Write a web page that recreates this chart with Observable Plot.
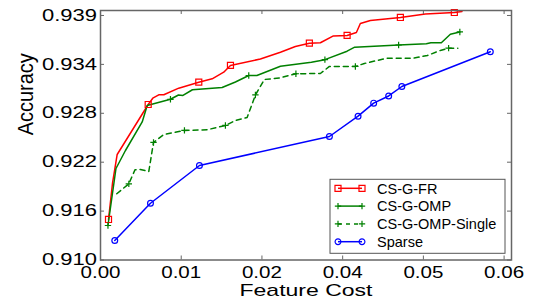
<!DOCTYPE html>
<html><head><meta charset="utf-8">
<script src="https://cdn.jsdelivr.net/npm/d3@7"></script>
<script src="https://cdn.jsdelivr.net/npm/@observablehq/plot@0.6"></script>
<style>body{margin:0;background:#fff;} svg{display:block}</style>
</head><body><div id="chart"></div>
<script>
// Axis ticks and their (matplotlib-rounded) labels
const xTicks = [0, 0.012, 0.024, 0.036, 0.048, 0.060];
const xTickLabels = ["0.00", "0.01", "0.02", "0.04", "0.05", "0.06"];
const yTicks = [0.910, 0.9159, 0.9218, 0.9277, 0.9336, 0.9395];
const yTickLabels = ["0.910", "0.916", "0.922", "0.928", "0.934", "0.939"];

const seriesNames = ["CS-G-FR", "CS-G-OMP", "CS-G-OMP-Single", "Sparse"];
const seriesColors = ["#ff0000", "#008000", "#008000", "#0000ff"];
const seriesSymbols = ["square", "plus", "plus", "circle"];
const seriesDash = [null, null, "5,4", null];

// CS-G-FR
const frCost = [0.00119, 0.00178, 0.00248, 0.00709, 0.00777, 0.00866, 0.00941, 0.01163, 0.01461, 0.01660, 0.01832, 0.01932, 0.02377, 0.02675, 0.02897, 0.03105, 0.03269, 0.03462, 0.03666, 0.03804, 0.03863, 0.04012, 0.04458, 0.04829, 0.05260, 0.05374];
const frAcc  = [0.91489, 0.91923, 0.92273, 0.92876, 0.92952, 0.92993, 0.92993, 0.93073, 0.93145, 0.93186, 0.93266, 0.93347, 0.93425, 0.93507, 0.93576, 0.93616, 0.93621, 0.93703, 0.93709, 0.93745, 0.93854, 0.93890, 0.93926, 0.93968, 0.93986, 0.93998];
const frMarks = [0, 3, 8, 11, 15, 18, 22, 24];

// CS-G-OMP
const ompCost = [0.00111, 0.00230, 0.00371, 0.00620, 0.00694, 0.01040, 0.01159, 0.01226, 0.01367, 0.01808, 0.02006, 0.02204, 0.02325, 0.02675, 0.03135, 0.03336, 0.03666, 0.03779, 0.04432, 0.04844, 0.04911, 0.05067, 0.05201, 0.05342];
const ompAcc  = [0.91416, 0.92104, 0.92321, 0.92665, 0.92864, 0.92939, 0.92991, 0.92985, 0.93054, 0.93081, 0.93148, 0.93226, 0.93226, 0.93338, 0.93387, 0.93417, 0.93519, 0.93568, 0.93594, 0.93609, 0.93621, 0.93621, 0.93723, 0.93751];
const ompMarks = [0, 5, 11, 15, 18, 23];

// CS-G-OMP-Single
const singleCost = [0.00242, 0.00421, 0.00513, 0.00594, 0.00718, 0.00788, 0.00941, 0.01248, 0.01585, 0.01857, 0.02006, 0.02180, 0.02303, 0.02437, 0.02660, 0.02905, 0.03269, 0.03403, 0.03789, 0.03923, 0.04260, 0.04655, 0.04859, 0.05052, 0.05175, 0.05312];
const singleAcc  = [0.91799, 0.91919, 0.92088, 0.92092, 0.92068, 0.92418, 0.92514, 0.92563, 0.92571, 0.92623, 0.92683, 0.92719, 0.92991, 0.93178, 0.93196, 0.93247, 0.93250, 0.93335, 0.93335, 0.93371, 0.93435, 0.93435, 0.93467, 0.93528, 0.93556, 0.93556];
const singleMarks = [1, 5, 7, 9, 12, 15, 18, 24];

// Sparse
const sparseCost = [0.00212, 0.00743, 0.01471, 0.03403, 0.03829, 0.04061, 0.04284, 0.04480, 0.05795];
const sparseAcc  = [0.91235, 0.91685, 0.92140, 0.92490, 0.92735, 0.92892, 0.92979, 0.93093, 0.93512];
const sparseMarks = [0, 1, 2, 3, 4, 5, 6, 7, 8];

const allCost = [frCost, ompCost, singleCost, sparseCost];
const allAcc = [frAcc, ompAcc, singleAcc, sparseAcc];
const allMarks = [frMarks, ompMarks, singleMarks, sparseMarks];

const rows = [];
seriesNames.forEach((s, k) => {
  allCost[k].forEach((c, i) => rows.push({s, k, x: c, y: allAcc[k][i], m: allMarks[k].includes(i)}));
});

const W = 536, H = 301, ML = 100, MR = 25, MT = 10, MB = 41.5;
const FW = W - ML - MR, FH = H - MT - MB;
const gray = "#666";
const dotR = [3.4, 2.2, 2.2, 2.9];

const marks = [];
seriesNames.forEach((s, k) => {
  const d = rows.filter(r => r.k === k);
  marks.push(Plot.line(d, {x: "x", y: "y", stroke: seriesColors[k], strokeWidth: 1.5, strokeDasharray: seriesDash[k]}));
});
seriesNames.forEach((s, k) => {
  const d = rows.filter(r => r.k === k && r.m);
  marks.push(Plot.dot(d, {x: "x", y: "y", symbol: seriesSymbols[k], r: dotR[k], stroke: seriesColors[k], fill: "none", strokeWidth: 1.2}));
});
// inward ticks on all four sides
marks.push(Plot.tickX(xTicks, {x: d => d, insetTop: FH - 4, stroke: gray}));
marks.push(Plot.tickX(xTicks, {x: d => d, insetBottom: FH - 4, stroke: gray}));
marks.push(Plot.tickY(yTicks, {y: d => d, insetRight: FW - 4, stroke: gray}));
marks.push(Plot.tickY(yTicks, {y: d => d, insetLeft: FW - 4, stroke: gray}));
marks.push(Plot.frame({stroke: gray, strokeWidth: 1.5}));
marks.push(Plot.axisX({ticks: xTicks, tickFormat: d => xTickLabels[xTicks.indexOf(d)], tickSize: 0, tickPadding: 7, fontSize: 16, label: null}));
marks.push(Plot.axisY({ticks: yTicks, tickFormat: d => yTickLabels[yTicks.indexOf(d)], tickSize: 0, tickPadding: 3.5, fontSize: 16, label: null}));
marks.push(Plot.text(["Feature Cost"], {frameAnchor: "bottom", dy: 30.8, fontSize: 17, lineAnchor: "middle", fill: "black"}));
marks.push(Plot.text(["Accuracy"], {frameAnchor: "left", dx: -75, rotate: -90, fontSize: 22, lineAnchor: "middle", fill: "black"}));

const svg = Plot.plot({
  width: W, height: H,
  marginLeft: ML, marginRight: MR, marginTop: MT, marginBottom: MB,
  x: {domain: [0, 0.0611]},
  y: {domain: [0.910, 0.9401]},
  style: {fontFamily: "'Liberation Sans', Arial, sans-serif", background: "white", color: "black"},
  marks
});
document.getElementById("chart").append(svg);

const S = d3.select(svg);
S.selectAll('g[aria-label="x-axis tick label"] text').attr("textLength", 40).attr("lengthAdjust", "spacingAndGlyphs");
S.selectAll('g[aria-label="y-axis tick label"] text').attr("textLength", 55).attr("lengthAdjust", "spacingAndGlyphs");
S.selectAll('g[aria-label="text"] text').each(function() {
  const t = d3.select(this);
  if (t.text() === "Feature Cost") t.attr("textLength", 133).attr("lengthAdjust", "spacingAndGlyphs");
  if (t.text() === "Accuracy") t.attr("textLength", 82).attr("lengthAdjust", "spacingAndGlyphs");
});

// legend
const symTypes = {square: d3.symbolSquare, plus: d3.symbolPlus, circle: d3.symbolCircle};
const lg = S.append("g").attr("font-family", "'Liberation Sans', Arial, sans-serif").attr("text-anchor", "start");
lg.append("rect").attr("x", 330).attr("y", 179.3).attr("width", 175).attr("height", 74)
  .attr("fill", "white").attr("stroke", "#555").attr("stroke-width", 1);
seriesNames.forEach((name, k) => {
  const cy = 188.3 + k * 17.8;
  lg.append("line").attr("x1", 338).attr("x2", 362).attr("y1", cy).attr("y2", cy)
    .attr("stroke", seriesColors[k]).attr("stroke-width", 1.5)
    .attr("stroke-dasharray", seriesDash[k] ? "4,4" : null);
  [338, 362].forEach(x => {
    lg.append("path").attr("transform", `translate(${x},${cy})`)
      .attr("d", d3.symbol(symTypes[seriesSymbols[k]], Math.PI * dotR[k] * dotR[k])())
      .attr("fill", "none").attr("stroke", seriesColors[k]).attr("stroke-width", 1.2);
  });
  lg.append("text").attr("x", 377).attr("y", cy).attr("dy", "0.36em").attr("text-anchor", "start")
    .attr("font-size", 14.5).attr("fill", "black").text(name);
});
</script></body></html>
